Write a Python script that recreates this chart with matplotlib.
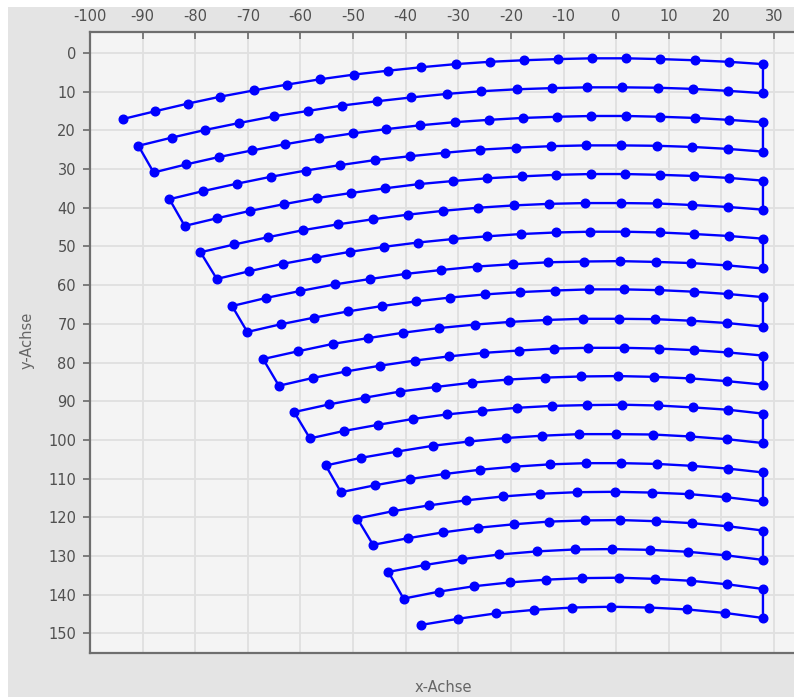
import matplotlib
matplotlib.use("Agg")
import matplotlib.pyplot as plt
from matplotlib.patches import Rectangle

# each arc listed left to right (x-Achse, y-Achse values)
x01 = [-93.8, -87.7, -81.4, -75.2, -68.9, -62.6, -56.2, -49.8, -43.4, -37.0, -30.5, -24.0, -17.6, -11.1, -4.6, 1.9, 8.4, 14.9, 21.4, 27.9]
y01 = [17.1, 15.1, 13.1, 11.3, 9.7, 8.2, 6.8, 5.6, 4.6, 3.7, 2.9, 2.3, 1.9, 1.6, 1.4, 1.4, 1.6, 1.9, 2.3, 2.9]
x02 = [-90.8, -84.5, -78.1, -71.6, -65.1, -58.6, -52.1, -45.5, -38.9, -32.2, -25.6, -18.9, -12.2, -5.5, 1.2, 7.9, 14.6, 21.2, 27.9]
y02 = [24.0, 21.9, 19.9, 18.1, 16.4, 15.0, 13.6, 12.5, 11.5, 10.6, 9.9, 9.4, 9.1, 8.9, 8.9, 9.0, 9.3, 9.8, 10.4]
x03 = [-87.9, -81.7, -75.5, -69.2, -62.9, -56.5, -50.1, -43.7, -37.2, -30.7, -24.2, -17.7, -11.2, -4.7, 1.9, 8.4, 14.9, 21.4, 27.9]
y03 = [30.9, 28.8, 26.9, 25.2, 23.6, 22.1, 20.8, 19.7, 18.7, 17.9, 17.3, 16.8, 16.5, 16.3, 16.3, 16.5, 16.8, 17.3, 17.9]
x04 = [-84.9, -78.5, -72.1, -65.6, -59.0, -52.5, -45.9, -39.2, -32.5, -25.9, -19.1, -12.4, -5.7, 1.0, 7.8, 14.5, 21.2, 27.9]
y04 = [37.8, 35.7, 33.8, 32.0, 30.4, 29.0, 27.7, 26.7, 25.8, 25.0, 24.5, 24.1, 23.9, 23.9, 24.0, 24.3, 24.8, 25.5]
x05 = [-82.0, -75.8, -69.5, -63.2, -56.8, -50.4, -44.0, -37.5, -31.0, -24.5, -17.9, -11.4, -4.8, 1.7, 8.3, 14.8, 21.4, 27.9]
y05 = [44.7, 42.7, 40.8, 39.1, 37.5, 36.2, 35.0, 33.9, 33.1, 32.4, 31.9, 31.5, 31.3, 31.3, 31.5, 31.8, 32.3, 33.0]
x06 = [-79.0, -72.6, -66.1, -59.5, -52.9, -46.3, -39.6, -32.9, -26.2, -19.4, -12.7, -5.9, 0.9, 7.7, 14.4, 21.2, 27.9]
y06 = [51.5, 49.5, 47.6, 45.8, 44.3, 43.0, 41.8, 40.8, 40.0, 39.4, 39.0, 38.8, 38.8, 38.9, 39.3, 39.8, 40.5]
x07 = [-75.9, -69.7, -63.4, -57.0, -50.6, -44.1, -37.7, -31.1, -24.6, -18.1, -11.5, -4.9, 1.7, 8.3, 14.8, 21.4, 27.9]
y07 = [58.4, 56.4, 54.5, 52.9, 51.4, 50.1, 49.0, 48.1, 47.4, 46.8, 46.4, 46.2, 46.2, 46.4, 46.8, 47.3, 48.0]
x08 = [-73.0, -66.5, -60.0, -53.4, -46.7, -40.0, -33.3, -26.5, -19.7, -12.9, -6.1, 0.7, 7.5, 14.3, 21.1, 27.9]
y08 = [65.4, 63.3, 61.5, 59.8, 58.4, 57.1, 56.1, 55.2, 54.6, 54.1, 53.9, 53.8, 54.0, 54.3, 54.9, 55.7]
x09 = [-70.1, -63.7, -57.4, -51.0, -44.5, -38.0, -31.5, -24.9, -18.3, -11.7, -5.1, 1.5, 8.2, 14.8, 21.3, 27.9]
y09 = [72.1, 70.1, 68.4, 66.8, 65.4, 64.2, 63.2, 62.4, 61.8, 61.4, 61.1, 61.1, 61.3, 61.7, 62.3, 63.1]
x10 = [-67.1, -60.5, -53.9, -47.2, -40.5, -33.7, -26.9, -20.1, -13.2, -6.3, 0.5, 7.4, 14.3, 21.1, 27.9]
y10 = [79.1, 77.1, 75.2, 73.7, 72.3, 71.1, 70.2, 69.5, 69.0, 68.7, 68.7, 68.8, 69.2, 69.8, 70.7]
x11 = [-64.1, -57.7, -51.3, -44.8, -38.3, -31.7, -25.1, -18.5, -11.9, -5.3, 1.4, 8.1, 14.7, 21.3, 27.9]
y11 = [86.0, 84.0, 82.3, 80.8, 79.5, 78.4, 77.5, 76.9, 76.4, 76.2, 76.2, 76.4, 76.8, 77.4, 78.2]
x12 = [-61.2, -54.5, -47.8, -41.1, -34.2, -27.4, -20.5, -13.6, -6.7, 0.3, 7.2, 14.1, 21.0, 27.9]
y12 = [92.8, 90.8, 89.1, 87.5, 86.3, 85.2, 84.4, 83.9, 83.6, 83.5, 83.7, 84.1, 84.8, 85.7]
x13 = [-58.2, -51.8, -45.3, -38.7, -32.1, -25.5, -18.9, -12.2, -5.5, 1.2, 7.9, 14.6, 21.3, 27.9]
y13 = [99.6, 97.7, 96.1, 94.6, 93.4, 92.5, 91.7, 91.2, 91.0, 90.9, 91.1, 91.6, 92.2, 93.2]
x14 = [-55.2, -48.4, -41.6, -34.8, -27.9, -20.9, -14.0, -7.0, 0.0, 7.0, 14.0, 21.0, 27.9]
y14 = [106.6, 104.6, 103.0, 101.5, 100.4, 99.5, 98.9, 98.5, 98.5, 98.6, 99.1, 99.8, 100.8]
x15 = [-52.3, -45.8, -39.2, -32.6, -25.9, -19.2, -12.5, -5.7, 1.0, 7.8, 14.5, 21.2, 27.9]
y15 = [113.5, 111.7, 110.1, 108.8, 107.7, 106.9, 106.3, 106.0, 106.0, 106.2, 106.7, 107.4, 108.4]
x16 = [-49.2, -42.4, -35.5, -28.5, -21.5, -14.4, -7.4, -0.3, 6.8, 13.9, 20.9, 27.9]
y16 = [120.3, 118.4, 116.9, 115.6, 114.6, 113.9, 113.5, 113.4, 113.6, 114.0, 114.8, 115.9]
x17 = [-46.2, -39.6, -33.0, -26.3, -19.5, -12.8, -6.0, 0.8, 7.6, 14.4, 21.2, 27.9]
y17 = [127.1, 125.4, 123.9, 122.7, 121.8, 121.1, 120.8, 120.7, 121.0, 121.5, 122.3, 123.4]
x18 = [-43.3, -36.3, -29.3, -22.2, -15.1, -7.9, -0.7, 6.5, 13.7, 20.8, 27.9]
y18 = [134.1, 132.3, 130.8, 129.6, 128.8, 128.3, 128.2, 128.4, 128.9, 129.8, 131.0]
x19 = [-40.4, -33.7, -27.0, -20.1, -13.3, -6.4, 0.5, 7.4, 14.3, 21.1, 27.9]
y19 = [141.0, 139.2, 137.8, 136.8, 136.1, 135.7, 135.6, 135.9, 136.4, 137.3, 138.5]
x20 = [-37.1, -30.0, -22.8, -15.6, -8.3, -1.0, 6.3, 13.5, 20.7, 27.9]
y20 = [147.8, 146.2, 144.8, 143.9, 143.3, 143.1, 143.3, 143.8, 144.7, 146.0]

x_ticks = list(range(-100, 31, 10))
y_ticks = list(range(0, 151, 10))

rows = [(x01, y01), (x02, y02), (x03, y03), (x04, y04), (x05, y05),
        (x06, y06), (x07, y07), (x08, y08), (x09, y09), (x10, y10),
        (x11, y11), (x12, y12), (x13, y13), (x14, y14), (x15, y15),
        (x16, y16), (x17, y17), (x18, y18), (x19, y19), (x20, y20)]

# one snake-shaped path: every second arc is walked right to left
path_x, path_y = [], []
for i, (xs, ys) in enumerate(rows):
    if i % 2 == 1:
        xs, ys = xs[::-1], ys[::-1]
    path_x += xs
    path_y += ys

plt.rcParams['font.family'] = ['DejaVu Sans']
plt.rcParams['axes.unicode_minus'] = False

W, H = 794, 697
fig = plt.figure(figsize=(W / 100, H / 100), dpi=100, facecolor='white')
# grey panel behind everything, thin white margin top/left
panel = Rectangle((8 / W, 0), 1, 1 - 7 / H, transform=fig.transFigure,
                  facecolor='#e4e4e4', edgecolor='none', zorder=-10)
fig.add_artist(panel)

left, top, bottom = 90, 32, 653
ax = fig.add_axes([left / W, 1 - bottom / H, 1 - left / W, (bottom - top) / H])
ax.set_zorder(1)
ax.set_facecolor('#f4f4f4')

ax.plot(path_x, path_y, color='#0000ff', lw=1.7, marker='o', ms=6.2,
        mfc='#0000ff', mec='#0000ff', zorder=3)

ax.set_xlim(-100, 33.8)
ax.set_ylim(155.05, -5.4)
ax.set_xticks(x_ticks)
ax.set_yticks(y_ticks)
ax.xaxis.tick_top()

tick_col = '#505050'
ax.tick_params(axis='x', direction='in', length=5, width=1.2, color='#6a6a6a',
               pad=6, labelsize=10.5, labelcolor=tick_col)
ax.tick_params(axis='y', direction='out', length=5, width=1.2, color='#6a6a6a',
               pad=5, labelsize=10.5, labelcolor=tick_col)

ax.grid(True, color='#e0e0e0', lw=1.3)
ax.set_axisbelow(True)

ax.spines['right'].set_visible(False)
for s in ['left', 'top', 'bottom']:
    ax.spines[s].set_color('#6e6e6e')
    ax.spines[s].set_linewidth(1.6)

fig.text(443 / W, 1 - 688 / H, 'x-Achse', ha='center', va='center',
         fontsize=10.5, color='#666666')
fig.text(27 / W, 1 - 340 / H, 'y-Achse', ha='center', va='center',
         rotation=90, fontsize=10.5, color='#666666')

fig.savefig('out.png', dpi=100, facecolor=fig.get_facecolor())
